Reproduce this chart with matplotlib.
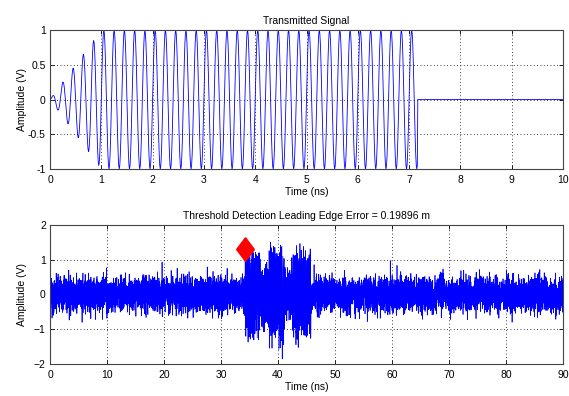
import matplotlib
matplotlib.use("Agg")
import matplotlib.pyplot as plt
import numpy as np

plt.rcParams["font.family"] = ["Liberation Sans", "DejaVu Sans"]
plt.rcParams["font.size"] = 7.5

# transmitted pulse parameters
carrier_ghz = 5.0
ramp_ns = 1.0
pulse_len_ns = 7.17
tx_span_ns = 10.0
samples_per_ns = 100

# received echoes: start, end, amplitude (ns, ns, V)
echo_start = [34.2, 36.8, 38.4, 41.2, 42.4]
echo_end = [36.8, 38.4, 41.2, 42.4, 45.8]
echo_amp = [0.95, 0.6, 1.05, 0.45, 1.0]
noise_std = 0.24
rx_span_ns = 90.0

detect_time = 34.2
detect_amp = 1.3
title_top = "Transmitted Signal"
title_bottom = "Threshold Detection Leading Edge Error = 0.19896 m"

# transmitted signal
t_tx = np.arange(0, tx_span_ns + 1e-9, 1.0 / samples_per_ns)
env = np.clip(t_tx / ramp_ns, 0, 1) * (t_tx < pulse_len_ns)
tx = env * np.sin(2 * np.pi * carrier_ghz * t_tx)

# received signal
t_rx = np.arange(0, rx_span_ns + 1e-9, 1.0 / samples_per_ns)
rng = np.random.default_rng(3)
rx = noise_std * rng.standard_normal(t_rx.size)
for s, e, a in zip(echo_start, echo_end, echo_amp):
    m = (t_rx >= s) & (t_rx < e)
    rx[m] += a * np.sin(2 * np.pi * carrier_ghz * (t_rx[m] - echo_start[0]))

fig = plt.figure(figsize=(5.69, 3.96), dpi=100)
ax1 = fig.add_axes([50 / 569, 1 - 169 / 396, 513 / 569, 139 / 396])
ax2 = fig.add_axes([50 / 569, 1 - 364 / 396, 513 / 569, 139 / 396])


def style(ax):
    ax.grid(True, color="black", linestyle=(0, (1, 3)), linewidth=0.6)
    ax.tick_params(direction="in", top=True, right=True, length=3, width=0.6)
    ax.tick_params(axis="x", pad=4)
    ax.tick_params(axis="y", pad=3)
    for sp in ax.spines.values():
        sp.set_linewidth(0.8)
        sp.set_color("#444444")


ax1.plot(t_tx, tx, color="blue", linewidth=0.6)
ax1.set_xlim(0, 10)
ax1.set_ylim(-1, 1)
ax1.set_xticks(np.arange(0, 11, 1))
ax1.set_yticks([-1, -0.5, 0, 0.5, 1])
ax1.set_yticklabels(["-1", "-0.5", "0", "0.5", "1"])
ax1.set_title(title_top, fontsize=7.5, pad=4)
ax1.set_xlabel("Time (ns)", labelpad=2)
ax1.set_ylabel("Amplitude (V)", labelpad=1)
style(ax1)

ax2.plot(t_rx, rx, color="blue", linewidth=0.5)
diamond = [(0, 1), (0.75, 0), (0, -1), (-0.75, 0), (0, 1)]
ax2.plot([detect_time], [detect_amp], marker=diamond, markersize=17,
         color="red", markeredgecolor="red", linestyle="none")
ax2.set_xlim(0, 90)
ax2.set_ylim(-2, 2)
ax2.set_xticks(np.arange(0, 91, 10))
ax2.set_yticks([-2, -1, 0, 1, 2])
ax2.set_title(title_bottom, fontsize=7.5, pad=4)
ax2.set_xlabel("Time (ns)", labelpad=2)
ax2.set_ylabel("Amplitude (V)", labelpad=5)
style(ax2)

fig.savefig("out.png", dpi=100)
